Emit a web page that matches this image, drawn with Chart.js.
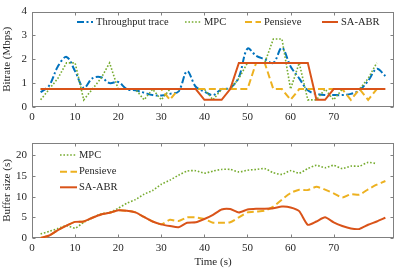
<!DOCTYPE html>
<html>
<head>
<meta charset="utf-8">
<script src="https://cdn.jsdelivr.net/npm/chart.js@4/dist/chart.umd.min.js"></script>
<style>
  html, body { margin: 0; padding: 0; background: #fff; }
  #wrap { position: relative; width: 399px; height: 269px; }
  .panel { position: absolute; left: 0; width: 399px; }
</style>
</head>
<body>
<div id="wrap">
  <div class="panel" style="top:0;height:130px"><canvas id="bitrateChart"></canvas></div>
  <div class="panel" style="top:130px;height:139px"><canvas id="bufferChart"></canvas></div>
</div>
<script>
// time stamps (s)
const timeSteps = [2, 4, 6, 8, 10, 12, 14, 16, 18, 20, 22, 24, 26, 28, 30, 32, 34, 36, 38, 40,
  42, 44, 46, 48, 50, 52, 54, 56, 58, 60, 62, 64, 66, 68, 70, 72, 74, 76, 78, 80, 82];

// bitrate (Mbps)
const throughputTrace = [0.62, 0.9, 1.7, 2.1, 1.5, 0.8, 1.2, 1.25, 1.0, 1.05, 0.75, 0.7, 0.6, 0.5, 0.48, 0.55, 0.65, 1.5, 0.85, 0.65,
  0.5, 0.75, 0.8, 1.25, 2.45, 2.15, 2.0, 1.85, 2.48, 1.7, 1.2, 0.7, 0.55, 0.5, 0.5, 0.5, 0.55, 0.7, 1.1, 1.6, 1.3];
const mpcBitrate = [0.3, 0.75, 1.2, 1.85, 1.85, 0.3, 0.75, 1.2, 1.85, 0.75, 0.75, 0.75, 0.3, 0.75, 0.3, 0.75, 0.75, 0.75, 0.75, 0.75,
  0.3, 0.75, 0.75, 1.2, 1.85, 1.85, 1.85, 2.85, 2.85, 0.75, 1.85, 0.3, 0.3, 0.75, 0.3, 0.75, 0.75, 0.75, 1.2, 1.85];
const pensieveBitrate = [0.75, 0.75, 0.75, 0.75, 0.75, 0.75, 0.75, 0.75, 0.75, 0.75, 0.75, 0.75, 0.75, 0.75, 0.75, 0.3, 0.75, 0.75, 0.75, 0.75,
  0.75, 0.75, 0.75, 0.75, 0.75, 1.85, 1.85, 0.75, 0.75, 0.3, 0.75, 0.75, 0.75, 0.75, 0.75, 0.75, 0.3, 0.75, 0.3, 0.75];
const saAbrBitrate = [0.75, 0.75, 0.75, 0.75, 0.75, 0.75, 0.75, 0.75, 0.75, 0.75, 0.75, 0.75, 0.75, 0.75, 0.75, 0.75, 0.75, 0.75, 0.75, 0.3,
  0.3, 0.3, 0.75, 1.85, 1.85, 1.85, 1.85, 1.85, 1.85, 1.85, 1.85, 1.85, 0.3, 0.3, 0.75, 0.75, 0.75, 0.75, 0.75, 0.75, 0.75];

// buffer size (s)
const mpcBuffer = [1.0, 1.6, 2.3, 3.0, 2.4, 3.8, 4.9, 5.8, 6.2, 7.2, 8.4, 9.3, 10.6, 11.5, 13.0, 14.0, 15.2, 16.2, 16.3, 15.7,
  16.2, 16.6, 16.6, 16.0, 16.4, 16.6, 16.8, 15.8, 15.4, 16.3, 15.7, 16.8, 17.6, 17.0, 17.6, 16.8, 17.4, 17.4, 18.3, 18.0];
const pensieveBuffer = [0, 0.6, 1.9, 3.0, 3.9, 4.0, 4.9, 5.7, 6.1, 6.7, 6.6, 6.2, 5.1, 4.0, 3.3, 4.4, 4.1, 5.0, 5.0, 4.6,
  3.7, 3.7, 3.8, 5.0, 6.2, 6.4, 6.6, 7.6, 9.3, 10.9, 11.7, 11.6, 12.4, 11.7, 10.8, 9.8, 10.6, 10.5, 11.8, 12.9, 13.8];
const saAbrBuffer = [0, 0.6, 1.9, 3.0, 3.9, 4.0, 4.9, 5.7, 6.1, 6.7, 6.6, 6.2, 5.1, 4.0, 3.3, 2.9, 2.6, 3.7, 3.8, 4.6,
  5.6, 6.9, 7.0, 6.2, 6.9, 7.1, 7.1, 7.2, 7.6, 7.4, 6.5, 3.2, 4.0, 5.0, 3.8, 2.9, 2.3, 2.2, 3.2, 4.0, 4.9];

const BLUE = '#0072BD', GREEN = '#77AC30', YELLOW = '#EDB120', RED = '#D95319';
const TEXT = '#262626', AXIS = '#808080';

Chart.defaults.font.family = 'Liberation Serif';
Chart.defaults.font.size = 11;
Chart.defaults.color = TEXT;

function points(values) {
  return values.map((v, i) => ({ x: timeSteps[i], y: v }));
}

// frame with inward ticks on all four sides
const boxFrame = {
  id: 'boxFrame',
  beforeDatasetsDraw(chart) {
    const { ctx, chartArea: a, scales } = chart;
    const l = Math.round(a.left) + 0.5, r = Math.round(a.right) - 0.5;
    const t = Math.round(a.top) + 0.5, b = Math.round(a.bottom) - 0.5;
    ctx.save();
    ctx.strokeStyle = AXIS;
    ctx.lineWidth = 1;
    ctx.strokeRect(l, t, r - l, b - t);
    ctx.beginPath();
    scales.x.ticks.forEach(tk => {
      const px = Math.round(scales.x.getPixelForValue(tk.value)) + 0.5;
      ctx.moveTo(px, b); ctx.lineTo(px, b - 3);
      ctx.moveTo(px, t); ctx.lineTo(px, t + 3);
    });
    scales.y.ticks.forEach(tk => {
      const py = Math.round(scales.y.getPixelForValue(tk.value)) + 0.5;
      ctx.moveTo(l, py); ctx.lineTo(l + 3, py);
      ctx.moveTo(r, py); ctx.lineTo(r - 3, py);
    });
    ctx.stroke();
    ctx.restore();
  }
};

// legend drawn inside the plot area
const inlineLegend = {
  id: 'inlineLegend',
  afterDatasetsDraw(chart, args, opts) {
    const ctx = chart.ctx;
    ctx.save();
    ctx.font = opts.font;
    ctx.textBaseline = 'middle';
    ctx.fillStyle = TEXT;
    chart.data.datasets.forEach((ds, i) => {
      const x = opts.xs[i] !== undefined ? opts.xs[i] : opts.xs[0];
      const y = opts.ys[i] !== undefined ? opts.ys[i] : opts.ys[0];
      ctx.strokeStyle = ds.borderColor;
      ctx.lineWidth = ds.borderWidth;
      ctx.setLineDash(ds.borderDash || []);
      ctx.beginPath();
      ctx.moveTo(x, y);
      ctx.lineTo(x + opts.sampleLen, y);
      ctx.stroke();
      ctx.fillText(ds.label, x + opts.sampleLen + opts.gap, y);
    });
    ctx.restore();
  }
};

function makeOptions(cfg) {
  return {
    responsive: true,
    maintainAspectRatio: false,
    animation: false,
    layout: { padding: { left: 0, top: cfg.top, right: 5, bottom: 0 } },
    elements: { point: { radius: 0 } },
    plugins: {
      legend: { display: false },
      tooltip: { enabled: false },
      inlineLegend: cfg.legend
    },
    scales: {
      x: {
        type: 'linear',
        min: 0,
        max: 84,
        grid: { display: false, drawTicks: false },
        border: { display: false },
        ticks: { stepSize: 10, padding: 4, color: TEXT },
        afterBuildTicks: s => { s.ticks = s.ticks.filter(t => t.value % 10 === 0); },
        afterFit: s => { s.height = cfg.xHeight; },
        title: cfg.xTitle ? { display: true, text: cfg.xTitle, padding: 0, color: TEXT } : { display: false }
      },
      y: {
        min: 0,
        max: cfg.yMax,
        grid: { display: false, drawTicks: false },
        border: { display: false },
        ticks: { stepSize: cfg.yStep, padding: 5, color: TEXT },
        afterBuildTicks: s => { s.ticks = s.ticks.filter(t => Math.abs(t.value % cfg.yStep) < 1e-9); },
        afterFit: s => { s.width = 32; },
        title: { display: true, text: cfg.yTitle, padding: 1, color: TEXT }
      }
    }
  };
}

new Chart(document.getElementById('bitrateChart'), {
  type: 'line',
  data: {
    datasets: [
      { label: 'Throughput trace', data: points(throughputTrace), borderColor: BLUE, borderWidth: 2,
        borderDash: [7, 2.5, 2, 2.5], tension: 0.35, order: 4 },
      { label: 'MPC', data: points(mpcBitrate), borderColor: GREEN, borderWidth: 1.6,
        borderDash: [1.6, 1.8], tension: 0, order: 3 },
      { label: 'Pensieve', data: points(pensieveBitrate), borderColor: YELLOW, borderWidth: 2,
        borderDash: [7, 3.5], tension: 0, order: 2 },
      { label: 'SA-ABR', data: points(saAbrBitrate), borderColor: RED, borderWidth: 2,
        tension: 0, order: 1 }
    ]
  },
  options: makeOptions({
    top: 7, xHeight: 23, yMax: 4, yStep: 1, yTitle: 'Bitrate (Mbps)',
    legend: { xs: [77, 185, 245, 322], ys: [22], sampleLen: 16, gap: 3, font: '10.5px "Liberation Serif"' }
  }),
  plugins: [boxFrame, inlineLegend]
});

new Chart(document.getElementById('bufferChart'), {
  type: 'line',
  data: {
    datasets: [
      { label: 'MPC', data: points(mpcBuffer), borderColor: GREEN, borderWidth: 1.6,
        borderDash: [1.6, 1.8], tension: 0.2, order: 3 },
      { label: 'Pensieve', data: points(pensieveBuffer), borderColor: YELLOW, borderWidth: 2,
        borderDash: [7, 3.5], tension: 0.2, order: 2 },
      { label: 'SA-ABR', data: points(saAbrBuffer), borderColor: RED, borderWidth: 2,
        tension: 0.2, order: 1 }
    ]
  },
  options: makeOptions({
    top: 13, xHeight: 31, yMax: 23, yStep: 5, yTitle: 'Buffer size (s)', xTitle: 'Time (s)',
    legend: { xs: [60], ys: [25, 41.7, 57.3], sampleLen: 17, gap: 2, font: '10.5px "Liberation Serif"' }
  }),
  plugins: [boxFrame, inlineLegend]
});
</script>
</body>
</html>
